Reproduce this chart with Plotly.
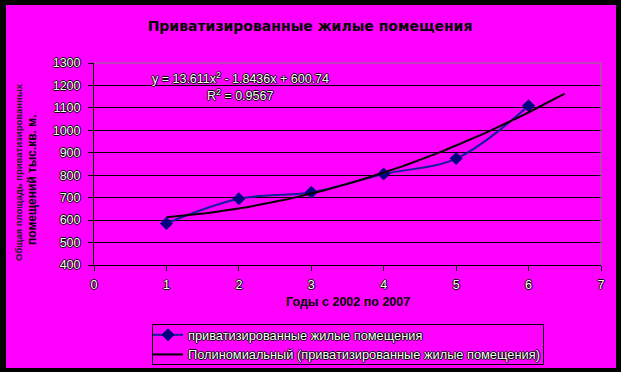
import numpy as np
import plotly.graph_objects as go

# ---- data ----
years_idx = [1, 2, 3, 4, 5, 6]
areas = [585, 695, 724, 805, 874, 1110]
trend_coef = [13.611, -1.8436, 600.74]   # as printed on chart
trend_r2 = 0.9567
trend_x_range = [1, 6.5]
x_ticks = [0, 1, 2, 3, 4, 5, 6, 7]
y_ticks = [400, 500, 600, 700, 800, 900, 1000, 1100, 1200, 1300]

title = "Приватизированные жилые помещения"
x_title = "Годы с 2002 по 2007"
y_title_1 = "Общая площадь приватизированных"
y_title_2 = "помещений тыс.кв. м."
series_name = "приватизированные жилые помещения"
trend_name = "Полиномиальный (приватизированные жилые помещения)"

W, H = 621, 372
L, R, T, B = 94, 601, 63, 265
pw, ph = R - L, B - T

def px(xp):
    return (xp - L) / pw

def py(yp):
    return (B - yp) / ph

MAG = "#FF00FF"
outline = "-1px 0 0 #000, 1px 0 0 #000, 0 -1px 0 #000, 0 1px 0 #000"
lab_font = dict(family="Liberation Sans, Arial", size=12.5, color="white", shadow=outline)

tx = np.linspace(trend_x_range[0], trend_x_range[1], 120)
ty = np.polyval(trend_coef, tx)

fig = go.Figure()
fig.add_trace(go.Scatter(
    x=years_idx, y=areas, mode="lines+markers", name=series_name,
    line=dict(color="#10209A", width=2, shape="spline", smoothing=1),
    marker=dict(symbol="diamond", size=10, color="#000080"),
))
fig.add_trace(go.Scatter(
    x=tx, y=ty, mode="lines", name=trend_name,
    line=dict(color="black", width=2),
))

fig.update_layout(
    width=W, height=H,
    margin=dict(l=L, r=W - R, t=T, b=H - B, autoexpand=False, pad=0),
    paper_bgcolor="black", plot_bgcolor=MAG,
    title=dict(text=title, x=px(310), xref="paper", y=1 - 26 / H, yanchor="middle",
               xanchor="center",
               font=dict(family="DejaVu Sans", size=14, color="black", weight="bold")),
    showlegend=True,
    legend=dict(x=px(148), y=py(320), xanchor="left", yanchor="top",
                bgcolor="rgba(0,0,0,0)", borderwidth=0,
                font=dict(family="Liberation Sans, Arial", size=12.8, color="white", shadow=outline),
                tracegroupgap=0, itemwidth=30),
    xaxis=dict(range=[0, 7], tickvals=x_ticks, showgrid=False, zeroline=False,
               showline=True, linecolor="black", linewidth=1,
               ticks="outside", ticklen=5, tickcolor="black",
               tickfont=lab_font, ticklabelstandoff=3),
    yaxis=dict(range=[400, 1300], tickvals=y_ticks, showgrid=True, gridcolor="black",
               gridwidth=1, zeroline=False,
               showline=True, linecolor="black", linewidth=1,
               ticks="outside", ticklen=5, tickcolor="black",
               tickfont=lab_font, ticklabelstandoff=5),
    shapes=[
        dict(type="rect", xref="paper", yref="paper", layer="below",
             x0=px(6), x1=px(616), y0=py(368), y1=py(5),
             fillcolor=MAG, line=dict(width=0)),
        dict(type="line", xref="paper", yref="paper", x0=0, x1=1, y0=1, y1=1,
             line=dict(color="#808080", width=1)),
        dict(type="line", xref="paper", yref="paper", x0=1, x1=1, y0=0, y1=1,
             line=dict(color="#808080", width=1)),
        dict(type="rect", xref="paper", yref="paper",
             x0=px(152.5), x1=px(543.5), y0=py(364.5), y1=py(324.5),
             line=dict(color="black", width=1)),
    ],
    annotations=[
        dict(text="y = 13.611x<sup>2</sup> - 1.8436x + 600.74", xref="paper", yref="paper",
             x=px(240), y=py(78), showarrow=False, xanchor="center", yanchor="middle",
             font=lab_font),
        dict(text=f"R<sup>2</sup> = {trend_r2}", xref="paper", yref="paper",
             x=px(240), y=py(95), showarrow=False, xanchor="center", yanchor="middle",
             font=lab_font),
        dict(text=x_title, xref="paper", yref="paper", x=px(347.5), y=py(302),
             showarrow=False, xanchor="center", yanchor="middle",
             font=dict(family="Liberation Sans, Arial", size=12.5, color="black", weight="bold")),
        dict(text=y_title_1, xref="paper", yref="paper", x=px(18), y=py(172),
             showarrow=False, xanchor="center", yanchor="middle", textangle=-90,
             font=dict(family="Liberation Sans, Arial", size=9.5, color="#202020", weight="bold")),
        dict(text=y_title_2, xref="paper", yref="paper", x=px(32), y=py(180),
             showarrow=False, xanchor="center", yanchor="middle", textangle=-90,
             font=dict(family="Liberation Sans, Arial", size=12, color="black", weight="bold")),
    ],
)

fig.write_html("out.html", config={"displayModeBar": False},
               post_script="document.body.style.margin='0';document.body.style.overflow='hidden';")
